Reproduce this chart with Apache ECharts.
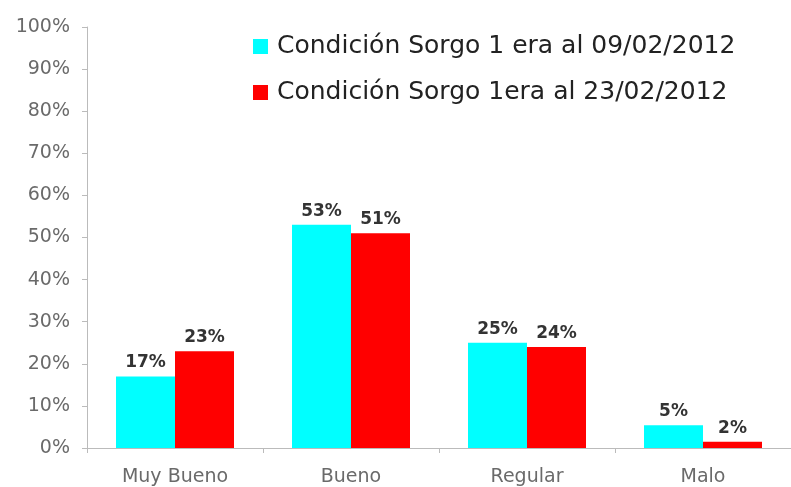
<!DOCTYPE html>
<html><head><meta charset="utf-8">
<script src="https://cdn.jsdelivr.net/npm/echarts@6/dist/echarts.min.js"></script>
<style>html,body{margin:0;padding:0;background:#fff}#c{width:791px;height:487px}</style>
</head><body><div id="c"></div>
<script>
const categories = ["Muy Bueno", "Bueno", "Regular", "Malo"];
const seriesNames = ["Condición Sorgo 1 era al 09/02/2012", "Condición Sorgo 1era al 23/02/2012"];
const values1 = [0.17, 0.53, 0.25, 0.054];
const values2 = [0.23, 0.51, 0.24, 0.015];
const colors = ["#00FFFF", "#FF0000"];

const chart = echarts.init(document.getElementById('c'));
const fontFam = '"DejaVu Sans", Verdana, sans-serif';
const lbl = {
  show: true, position: 'top', distance: 5,
  formatter: p => Math.round(p.value * 100) + '%',
  fontFamily: fontFam, fontWeight: 'bold', fontSize: 17, color: '#333'
};
chart.setOption({
  backgroundColor: '#fff',
  animation: false,
  legend: {
    orient: 'vertical', left: 253, top: 34, padding: 0,
    itemWidth: 15, itemHeight: 15, itemGap: 21, icon: 'rect',
    textStyle: { fontFamily: fontFam, fontSize: 25, color: '#222', padding: [0, 0, 0, 4] },
    data: seriesNames
  },
  grid: { left: 87, right: 0, top: 27, bottom: 38, containLabel: false },
  xAxis: {
    type: 'category', data: categories,
    axisLine: { lineStyle: { color: '#bbb' } },
    axisTick: { show: true, length: 5, lineStyle: { color: '#bbb' } },
    axisLabel: { fontFamily: fontFam, fontSize: 19, color: '#6a6a6a', margin: 20 }
  },
  yAxis: {
    type: 'value', min: 0, max: 1, interval: 0.1,
    axisLine: { show: true, lineStyle: { color: '#bbb' } },
    axisTick: { show: true, length: 5, lineStyle: { color: '#bbb' } },
    splitLine: { show: false },
    axisLabel: { fontFamily: fontFam, fontSize: 19, color: '#6a6a6a', margin: 17,
      formatter: v => Math.round(v * 100) + '%' }
  },
  series: [
    { name: seriesNames[0], type: 'bar', data: values1, barWidth: 59, barGap: '0%',
      itemStyle: { color: colors[0] }, label: lbl },
    { name: seriesNames[1], type: 'bar', data: values2, barWidth: 59, barGap: '0%',
      itemStyle: { color: colors[1] }, label: lbl }
  ]
});
</script></body></html>
